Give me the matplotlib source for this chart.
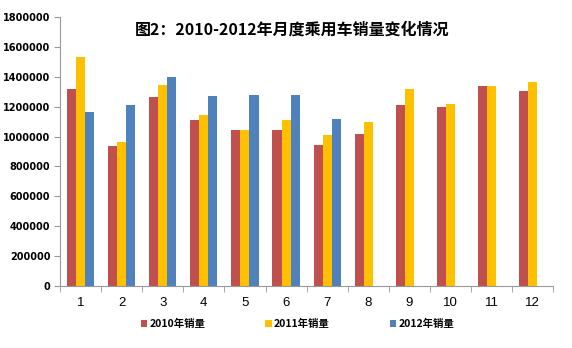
import matplotlib
matplotlib.use("Agg")
import matplotlib.pyplot as plt
import numpy as np

plt.rcParams['font.family'] = ['Noto Sans CJK SC', 'DejaVu Sans']

months = ['1', '2', '3', '4', '5', '6', '7', '8', '9', '10', '11', '12']
sales_2010 = [1316000, 940000, 1265000, 1110000, 1041000, 1041000, 947000, 1019000, 1209000, 1200000, 1337000, 1308000]
sales_2011 = [1531000, 967000, 1345000, 1142000, 1046000, 1108000, 1014000, 1097000, 1321000, 1220000, 1341000, 1368000]
sales_2012 = [1162000, 1214000, 1399000, 1274000, 1281000, 1281000, 1120000]
series_names = ['2010年销量', '2011年销量', '2012年销量']
colors = ['#C0504D', '#FFC000', '#4F81BD']
title = '图2：2010-2012年月度乘用车销量变化情况'

fig = plt.figure(figsize=(5.72, 3.48), dpi=100)
ax = fig.add_axes([0.105, 0.178, 0.862, 0.773])

x = np.arange(len(months))
w = 0.22
h1 = ax.bar(x - w, sales_2010, w, color=colors[0], label=series_names[0])
h2 = ax.bar(x, sales_2011, w, color=colors[1], label=series_names[1])
h3 = ax.bar(np.arange(len(sales_2012)) + w, sales_2012, w, color=colors[2], label=series_names[2])

ax.set_xlim(-0.5, len(months) - 0.5)
ax.set_ylim(0, 1800000)
ax.set_yticks(np.arange(0, 1800001, 200000))
ax.set_yticklabels([str(v) for v in range(0, 1800001, 200000)], fontsize=7, fontweight='bold', family=['DejaVu Sans'])
ax.set_xticks(x)
ax.set_xticklabels(months, fontsize=9.5, family=['Liberation Sans'])
ax.set_xticks(np.arange(-0.5, len(months), 1), minor=True)
ax.tick_params(axis='x', which='major', length=0, pad=8)
ax.tick_params(axis='x', which='minor', length=4, color='#999999', direction='out')
ax.tick_params(axis='y', length=4, color='#999999', direction='out', pad=3)

for s in ['top', 'right']:
    ax.spines[s].set_visible(False)
for s in ['left', 'bottom']:
    ax.spines[s].set_color('#999999')
    ax.spines[s].set_linewidth(0.8)

fig.text(0.51, 0.915, title, ha='center', va='center', fontsize=11.5, fontweight='bold')

fig.legend(handles=[h1, h2, h3], labels=series_names, loc='center', bbox_to_anchor=(0.52, 0.068),
           ncol=3, frameon=False, handlelength=0.6, handleheight=0.6,
           handletextpad=0.2, columnspacing=5.8, prop={'weight': 'bold', 'size': 7.5})

fig.savefig('out.png', dpi=100)
